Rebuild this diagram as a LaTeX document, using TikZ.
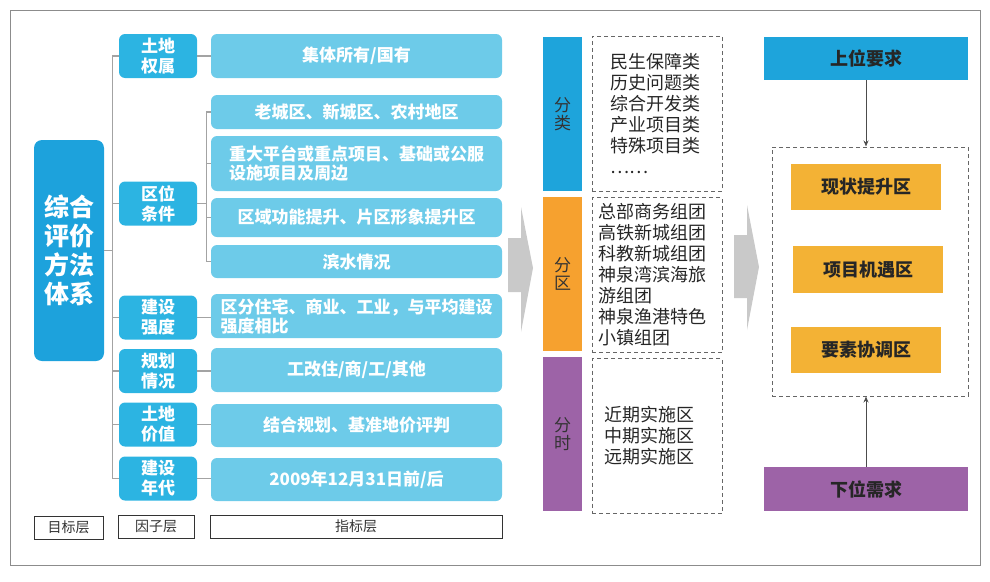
\documentclass[tikz,border=0pt]{standalone}
\usepackage{fontspec}
\setmainfont{Noto Sans CJK SC}
\usetikzlibrary{arrows.meta}
\definecolor{goalblue}{HTML}{1DA2DC}
\definecolor{factorblue}{HTML}{2CB4E2}
\definecolor{indexblue}{HTML}{6DCBE9}
\definecolor{barblue}{HTML}{1EA4DB}
\definecolor{barorange}{HTML}{F6A12F}
\definecolor{barpurple}{HTML}{9D63A7}
\definecolor{zoneorange}{HTML}{F3B235}
\definecolor{arrowgray}{HTML}{C9C9C9}
\definecolor{linkgray}{HTML}{A3A3A3}
\tikzset{
  goal/.style={fill=goalblue, rounded corners=8pt, text=white, align=center,
    font=\bfseries\fontsize{25}{29}\selectfont, minimum width=70pt, minimum height=221pt, inner sep=0pt},
  factor/.style={fill=factorblue, rounded corners=6pt, text=white, align=center,
    font=\bfseries\fontsize{17}{20}\selectfont, minimum width=78pt, minimum height=44pt, inner sep=0pt},
  index/.style={fill=indexblue, rounded corners=6pt, text=white, align=left,
    font=\bfseries\fontsize{17}{19}\selectfont, minimum width=291pt, inner sep=0pt},
  layer/.style={draw=black!80, line width=1pt, text=black!80, font=\fontsize{14}{16}\selectfont,
    minimum height=23pt, inner sep=0pt},
  link/.style={draw=linkgray, line width=1.3pt},
  bar/.style={text=black!80, align=center, font=\fontsize{17}{18}\selectfont,
    minimum width=39pt, minimum height=154pt, inner sep=0pt},
  dashbox/.style={draw=black!60, line width=1pt, dash pattern=on 4pt off 3pt},
  listbox/.style={dashbox, text=black!85, align=left, font=\fontsize{18}{21}\selectfont,
    minimum height=155pt, inner ysep=0pt},
  need/.style={text=black!85, font=\bfseries\fontsize{18}{20}\selectfont,
    minimum width=204pt, minimum height=43pt, inner sep=0pt},
  zone/.style={fill=zoneorange, text=black!85, font=\bfseries\fontsize{18}{20}\selectfont,
    minimum width=150pt, minimum height=46pt, inner sep=0pt},
  push/.style={draw=black!70, line width=1pt, -{Stealth[length=6pt,width=5pt]}}
}
\begin{document}
\begin{tikzpicture}[x=1pt,y=-1pt]
	\useasboundingbox (0,0) rectangle (990,581);
	\draw[black!45, line width=1pt] (10,10) rectangle (980,565);

	\node[goal] (goal) at (69,250.5) {综合\\评价\\方法\\体系};

	\node[factor] (f1) at (158,56) {土地\\权属};
	\node[factor] (f2) at (158,203.5) {区位\\条件};
	\node[factor] (f3) at (158,317.5) {建设\\强度};
	\node[factor] (f4) at (158,371) {规划\\情况};
	\node[factor] (f5) at (158,424.5) {土地\\价值};
	\node[factor] (f6) at (158,478.5) {建设\\年代};

	\node[index, minimum height=44pt] (i1) at (356.5,56) {集体所有/国有};
	\node[index, minimum height=34pt] (i2) at (356.5,112) {老城区、新城区、农村地区};
	\node[index, minimum height=55pt] (i3) at (356.5,163.5) {重大平台或重点项目、基础或公服\\设施项目及周边};
	\node[index, minimum height=39pt] (i4) at (356.5,217.5) {区域功能提升、片区形象提升区};
	\node[index, minimum height=33pt] (i5) at (356.5,261.5) {滨水情况};
	\node[index, minimum height=44pt] (i6) at (356.5,316) {区分住宅、商业、工业，与平均建设\\强度相比};
	\node[index, minimum height=44pt] (i7) at (356.5,370) {工改住/商/工/其他};
	\node[index, minimum height=43pt] (i8) at (356.5,425.5) {结合规划、基准地价评判};
	\node[index, minimum height=43pt] (i9) at (356.5,479.5) {2009年12月31日前/后};

	\draw[link] (goal.east) -- ++(9,0);
	\draw[link] (f1.west) -- ++(-6,0) |- (f6.west);
	\draw[link] (f2.west) -- ++(-6,0);
	\draw[link] (f3.west) -- ++(-6,0);
	\draw[link] (f4.west) -- ++(-6,0);
	\draw[link] (f5.west) -- ++(-6,0);
	\draw[link] (f1.east) -- (f1.east -| i1.west);
	\draw[link] (f2.east) -- ++(10,0);
	\draw[link] (i2.west) -- ++(-4,0) |- (i5.west);
	\draw[link] (i3.west) -- ++(-4,0);
	\draw[link] (i4.west) -- ++(-4,0);
	\draw[link] (f3.east) -- (f3.east -| i6.west);
	\draw[link] (f4.east) -- (f4.east -| i7.west);
	\draw[link] (f5.east) -- (f5.east -| i8.west);
	\draw[link] (f6.east) -- (f6.east -| i9.west);

	\node[layer, minimum width=69pt] (l1) at (68.5,527.5) {目标层};
	\node[layer, minimum width=76pt] (l2) at (156,527) {因子层};
	\node[layer, minimum width=292pt] (l3) at (356,526.5) {指标层};

	\fill[arrowgray] (508,238) -- (521,238) -- (521,207) -- (533,268) -- (521,332) -- (521,292) -- (508,292) -- cycle;
	\fill[arrowgray] (734,235) -- (747,235) -- (747,205) -- (759,267) -- (747,330) -- (747,298) -- (734,298) -- cycle;

	\node[bar, fill=barblue] (b1) at (562.5,114) {分\\类};
	\node[bar, fill=barorange] (b2) at (562.5,274) {分\\区};
	\node[bar, fill=barpurple] (b3) at (562.5,434) {分\\时};

	\node[listbox, text width=94pt, inner xsep=18pt] (d1) at (657,113.5)
		{民生保障类\\历史问题类\\综合开发类\\产业项目类\\特殊项目类\\……};
	\node[listbox, text width=118pt, inner xsep=6pt] (d2) at (657,275)
		{总部商务组团\\高铁新城组团\\科教新城组团\\神泉湾滨海旅\\游组团\\神泉渔港特色\\小镇组团};
	\node[listbox, text width=106pt, inner xsep=12pt] (d3) at (657,436)
		{近期实施区\\中期实施区\\远期实施区};

	\node[need, fill=barblue] (up) at (866,58.5) {上位要求};
	\node[dashbox, minimum width=196pt, minimum height=249pt, inner sep=0pt] (zones) at (870,271.5) {};
	\node[zone] (z1) at (866,187) {现状提升区};
	\node[zone, minimum height=47pt] (z2) at (868,269.5) {项目机遇区};
	\node[zone] (z3) at (866,350) {要素协调区};
	\node[need, fill=barpurple, minimum height=44pt] (down) at (866,489) {下位需求};

	\draw[push] (up.south) -- (up.south |- zones.north);
	\draw[push] (down.north) -- (down.north |- zones.south);
\end{tikzpicture}
\end{document}
